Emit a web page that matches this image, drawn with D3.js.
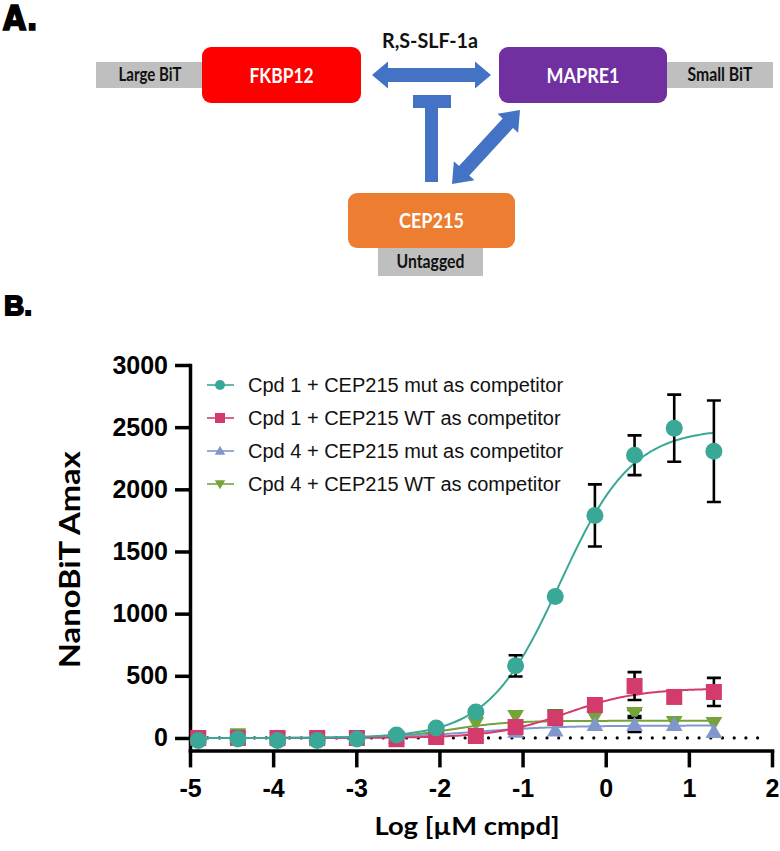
<!DOCTYPE html>
<html><head><meta charset="utf-8">
<script src="https://cdn.jsdelivr.net/npm/d3@7"></script>
<style>
html,body{margin:0;padding:0;background:#fff;}
svg{display:block;}
</style></head>
<body>
<svg id="chart" width="780" height="851"></svg>
<script>
// ---------- DATA ----------
const logConc = [-4.901, -4.424, -3.947, -3.470, -2.993, -2.516, -2.039, -1.562, -1.084, -0.607, -0.130, 0.347, 0.824, 1.301];
const seriesNames = [
  "Cpd 1 + CEP215 mut as competitor",
  "Cpd 1 + CEP215 WT as competitor",
  "Cpd 4 + CEP215 mut as competitor",
  "Cpd 4 + CEP215 WT as competitor"
];
const cpd1MutMean = [-20, -8, -20, -20, -8, 24, 80, 209, 580, 1137, 1790, 2274, 2492, 2306];
const cpd1MutErr  = [0, 0, 0, 0, 0, 0, 0, 0, 85, 0, 250, 160, 270, 408];
const cpd1WtMean  = [0, 0, 0, 0, 0, -10, 8, 16, 88, 161, 265, 418, 330, 370];
const cpd1WtErr   = [0, 0, 0, 0, 0, 0, 0, 0, 0, 55, 0, 112, 0, 113];
const cpd4MutMean = [0, 0, 0, 0, 0, 0, 15, 30, 50, 60, 105, 105, 105, 48];
const cpd4MutErr  = [0, 0, 0, 0, 0, 0, 0, 0, 0, 0, 0, 56, 0, 0];
const cpd4WtMean  = [0, 30, 0, 0, 0, 5, 50, 120, 177, 185, 169, 201, 129, 121];
const cpd4WtErr   = [0, 0, 0, 0, 0, 0, 0, 0, 0, 0, 0, 25, 0, 0];
// four-parameter logistic fit parameters
const fitBottom  = [0, 0, 0, 0];
const fitTop     = [2490, 400, 100, 138];
const fitLogEC50 = [-0.55, -0.47, -1.55, -1.85];
const fitHill    = [1.0, 1.0, 0.85, 1.3];
const yTicks = [0, 500, 1000, 1500, 2000, 2500, 3000];
const xTicks = [-5, -4, -3, -2, -1, 0, 1, 2];
const yTitle = "NanoBiT Amax";
const xTitle = "Log [µM cmpd]";

const colors = ["#39A896", "#D33B6B", "#8197CC", "#74A33A"];
const symbols = ["circle", "square", "triangleUp", "triangleDown"];
const means = [cpd1MutMean, cpd1WtMean, cpd4MutMean, cpd4WtMean];
const errs  = [cpd1MutErr, cpd1WtErr, cpd4MutErr, cpd4WtErr];

const svg = d3.select("#chart");

// ---------- PANEL A (diagram) ----------
const diagFont = "Lato, 'Open Sans', sans-serif";
const blue = "#4472C4";
svg.append("text").attr("x", 3).attr("y", 30).text("A.")
  .attr("font-family", "'DejaVu Sans Condensed', 'DejaVu Sans', sans-serif").attr("font-weight", 900)
  .attr("font-size", 33).attr("stroke", "#000").attr("stroke-width", 1.4).attr("fill", "#000");

const boxes = [
  {x: 96, y: 62, w: 108, h: 26, fill: "#BFBFBF", r: 0, text: "Large BiT", tc: "#111", fs: 18, tl: 63},
  {x: 667, y: 62, w: 106, h: 26, fill: "#BFBFBF", r: 0, text: "Small BiT", tc: "#111", fs: 18, tl: 65},
  {x: 378, y: 247, w: 105, h: 29, fill: "#BFBFBF", r: 0, text: "Untagged", tc: "#111", fs: 18, tl: 68},
  {x: 202, y: 47, w: 159, h: 56, fill: "#FF0000", r: 9, text: "FKBP12", tc: "#fff", fs: 21, tl: 64},
  {x: 499, y: 47, w: 168, h: 56, fill: "#7030A0", r: 9, text: "MAPRE1", tc: "#fff", fs: 21, tl: 73},
  {x: 348, y: 193, w: 167, h: 55, fill: "#ED7D31", r: 9, text: "CEP215", tc: "#fff", fs: 21, tl: 65}
];
const gB = svg.append("g");
boxes.forEach(b => {
  gB.append("rect").attr("x", b.x).attr("y", b.y).attr("width", b.w).attr("height", b.h)
    .attr("rx", b.r).attr("fill", b.fill);
  gB.append("text").attr("x", b.x + b.w / 2).attr("y", b.y + b.h / 2).attr("dy", "0.36em")
    .attr("text-anchor", "middle").attr("font-family", diagFont).attr("font-weight", 700)
    .attr("font-size", b.fs).attr("fill", b.tc)
    .attr("textLength", b.tl).attr("lengthAdjust", "spacingAndGlyphs").text(b.text);
});
svg.append("text").attr("x", 430).attr("y", 48).attr("text-anchor", "middle")
  .attr("font-family", diagFont).attr("font-weight", 700).attr("font-size", 21).attr("fill", "#111")
  .attr("textLength", 96).attr("lengthAdjust", "spacingAndGlyphs")
  .text("R,S-SLF-1a");

function doubleArrow(x1, y1, x2, y2, shaft, headW, headL) {
  const dx = x2 - x1, dy = y2 - y1, L = Math.hypot(dx, dy);
  const ux = dx / L, uy = dy / L, nx = -uy, ny = ux;
  const p = (t, s) => [x1 + ux * t + nx * s, y1 + uy * t + ny * s];
  const pts = [p(0, 0), p(headL, headW / 2), p(headL, shaft / 2), p(L - headL, shaft / 2), p(L - headL, headW / 2),
    p(L, 0), p(L - headL, -headW / 2), p(L - headL, -shaft / 2), p(headL, -shaft / 2), p(headL, -headW / 2)];
  return "M" + pts.map(q => q.join(",")).join("L") + "Z";
}
svg.append("path").attr("d", doubleArrow(372, 75, 491, 75, 14, 27, 16)).attr("fill", blue);
svg.append("path").attr("d", doubleArrow(520, 110, 452, 184, 14, 28, 18)).attr("fill", blue);
svg.append("rect").attr("x", 413).attr("y", 95).attr("width", 38).attr("height", 13).attr("fill", blue);
svg.append("rect").attr("x", 425).attr("y", 107).attr("width", 13).attr("height", 75).attr("fill", blue);

// ---------- PANEL B (chart) ----------
svg.append("text").attr("x", 4).attr("y", 315).text("B.")
  .attr("font-family", "'Liberation Sans', Arial, sans-serif").attr("font-weight", 700)
  .attr("font-size", 28).attr("stroke", "#000").attr("stroke-width", 1.8).attr("fill", "#000");

const x = d3.scaleLinear().domain([-5, 2]).range([190, 772]);
const y = d3.scaleLinear().domain([-100, 3000]).range([750.4, 365]);
const tickFont = "'Liberation Sans', Arial, sans-serif";

const gx = svg.append("g").attr("transform", `translate(0,${y(-100)})`)
  .call(d3.axisBottom(x).tickValues(xTicks).tickFormat(d => d < 0 ? "-" + Math.abs(d) : String(d))
    .tickSize(17).tickSizeOuter(0).tickPadding(12));
const gy = svg.append("g").attr("transform", `translate(${x(-5)},0)`)
  .call(d3.axisLeft(y).tickValues(yTicks).tickFormat(d => String(d))
    .tickSize(15).tickSizeOuter(0).tickPadding(7));
[gx, gy].forEach(g => {
  g.select(".domain").attr("stroke", "#000").attr("stroke-width", 3.5).attr("stroke-linecap", "square");
  g.selectAll(".tick line").attr("stroke", "#000").attr("stroke-width", 3.5);
  g.selectAll(".tick text").attr("fill", "#000").attr("font-family", tickFont)
    .attr("font-weight", 700).attr("font-size", 25);
});

// dotted zero line
svg.append("line").attr("x1", x(-5) + 6).attr("x2", x(1.9)).attr("y1", y(0)).attr("y2", y(0))
  .attr("stroke", "#000").attr("stroke-width", 3.2).attr("stroke-linecap", "round")
  .attr("stroke-dasharray", "0 11.7");

// axis titles
svg.append("text").attr("transform", `translate(80,${(y(3000) + y(-100)) / 2 + 2}) rotate(-90)`)
  .attr("text-anchor", "middle").attr("font-family", diagFont).attr("font-weight", 700)
  .attr("font-size", 29).attr("fill", "#000")
  .attr("textLength", 217).attr("lengthAdjust", "spacingAndGlyphs").text(yTitle);
svg.append("text").attr("x", 467).attr("y", 835).attr("text-anchor", "middle")
  .attr("font-family", diagFont).attr("font-weight", 700).attr("font-size", 24).attr("fill", "#000")
  .attr("textLength", 185).attr("lengthAdjust", "spacingAndGlyphs").text(xTitle);

function symbolPath(kind, size) {
  const s = size;
  if (kind === "circle") return d3.symbol(d3.symbolCircle, Math.PI * s * s)();
  if (kind === "square") return `M${-s},${-s}H${s}V${s}H${-s}Z`;
  if (kind === "triangleUp") return `M0,${-s * 1.05}L${s * 1.05},${s * 0.75}L${-s * 1.05},${s * 0.75}Z`;
  return `M0,${s * 1.05}L${s * 1.05},${-s * 0.75}L${-s * 1.05},${-s * 0.75}Z`;
}

const fitX = d3.range(logConc[0], logConc[logConc.length - 1] + 0.001, 0.02);
const plot = svg.append("g");
// draw in reverse so series 1 is on top
[3, 2, 1, 0].forEach(i => {
  const g = plot.append("g");
  const curve = fitX.map(v => [v, fitBottom[i] + (fitTop[i] - fitBottom[i]) / (1 + Math.pow(10, (fitLogEC50[i] - v) * fitHill[i]))]);
  g.append("path").attr("d", d3.line().x(d => x(d[0])).y(d => y(d[1]))(curve))
    .attr("fill", "none").attr("stroke", colors[i]).attr("stroke-width", 2);
  const pts = logConc.map((v, k) => ({lx: v, m: means[i][k], e: errs[i][k]}));
  pts.filter(d => d.e > 0).forEach(d => {
    const cx = x(d.lx), hw = 7;
    g.append("path").attr("d",
      `M${cx},${y(d.m + d.e)}V${y(d.m - d.e)}M${cx - hw},${y(d.m + d.e)}H${cx + hw}M${cx - hw},${y(d.m - d.e)}H${cx + hw}`)
      .attr("stroke", "#000").attr("stroke-width", 2.6).attr("fill", "none");
  });
  g.selectAll("path.pt").data(pts).join("path").attr("class", "pt")
    .attr("transform", d => `translate(${x(d.lx)},${y(d.m)})`)
    .attr("d", symbolPath(symbols[i], i === 0 ? 8.5 : 8)).attr("fill", colors[i]);
});

// legend
const leg = svg.append("g");
seriesNames.forEach((name, i) => {
  const ly = 385 + i * 33;
  leg.append("line").attr("x1", 207).attr("x2", 234).attr("y1", ly).attr("y2", ly)
    .attr("stroke", colors[i]).attr("stroke-width", 1.6);
  leg.append("path").attr("transform", `translate(220,${ly})`).attr("d", symbolPath(symbols[i], 5)).attr("fill", colors[i]);
  leg.append("text").attr("x", 248).attr("y", ly).attr("dy", "0.36em")
    .attr("font-family", "'Liberation Sans', Arial, sans-serif").attr("font-size", 20).attr("fill", "#111").text(name);
});
</script>
</body></html>
